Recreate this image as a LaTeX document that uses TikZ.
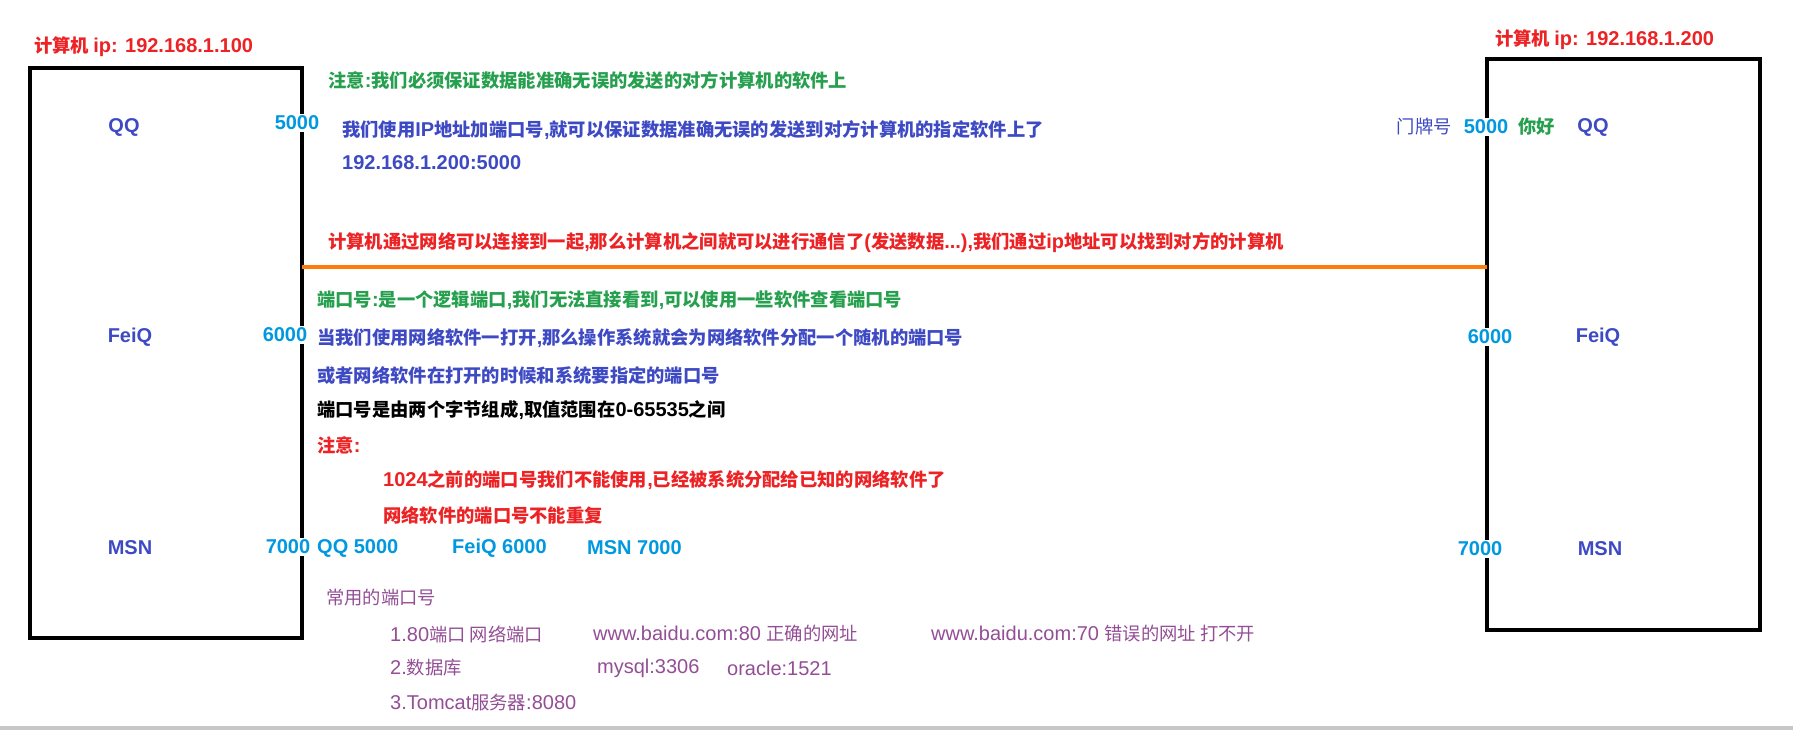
\documentclass[tikz,border=0pt]{standalone}
\usepackage{fontspec}
\setmainfont{Liberation Sans}
\newfontfamily\latfam{Liberation Sans}
\newfontfamily\cjkfam{Noto Sans CJK SC}[Scale=0.915]
\XeTeXinterchartokenstate=1
\newcount\cjkc
\cjkc="4E00
\loop \XeTeXcharclass\cjkc=10 \ifnum\cjkc<"9FFF \advance\cjkc by 1 \repeat
\XeTeXinterchartoks 0 10 = {\cjkfam}
\XeTeXinterchartoks 4095 10 = {\cjkfam}
\XeTeXinterchartoks 10 0 = {\latfam}
\XeTeXinterchartoks 4095 0 = {\latfam}
\definecolor{cred}{RGB}{236,34,36}
\definecolor{cgreen}{RGB}{38,160,78}
\definecolor{cblue}{RGB}{62,74,196}
\definecolor{cport}{RGB}{0,152,222}
\definecolor{corange}{RGB}{255,124,10}
\definecolor{cpurple}{RGB}{148,78,150}
\tikzset{
  txt/.style={anchor=west,inner sep=0pt,font=\fontsize{20}{24}\selectfont\bfseries},
  ptxt/.style={anchor=west,inner sep=0pt,text=cpurple,font=\fontsize{20}{24}\selectfont},
  app/.style={inner sep=0pt,text=cblue,font=\fontsize{20}{24}\selectfont\bfseries},
  port/.style={fill=white,inner sep=1.5pt,text=cport,font=\fontsize{20}{24}\selectfont\bfseries},
  pc/.style={draw=black,line width=4pt,inner sep=0pt,outer sep=0pt},
}
\begin{document}
\begin{tikzpicture}[x=1pt,y=-1pt]
\useasboundingbox[fill=white] (0,0) rectangle (1793,730);
\fill[black!22] (0,726) rectangle (1793,730);
% computers
\node[pc,minimum width=272pt,minimum height=570pt] (pc1) at (166,353) {};
\node[pc,minimum width=273pt,minimum height=571pt] (pc2) at (1623.5,344.5) {};
\node[txt,text=cred] (ip1) at (34,47) {计算机 ip: 192.168.1.100};
\node[txt,text=cred] (ip2) at (1495,40) {计算机 ip: 192.168.1.200};
% left apps
\node[app] (qq1) at (124,127) {QQ};
\node[app] (feiq1) at (130,337) {FeiQ};
\node[app] (msn1) at (130,548) {MSN};
\node[port] (p1a) at (297,123) {5000};
\node[port] (p1b) at (285,335) {6000};
\node[port] (p1c) at (288,547) {7000};
% right apps
\node[app] (qq2) at (1593,127) {QQ};
\node[app] (feiq2) at (1598,337) {FeiQ};
\node[app] (msn2) at (1600,549) {MSN};
\node[port] (p2a) at (1486,127) {5000};
\node[port] (p2b) at (1490,337) {6000};
\node[port] (p2c) at (1480,549) {7000};
\node[anchor=east,inner sep=0pt,text=cblue,font=\fontsize{20}{24}\selectfont] (door) at (1452,127) {门牌号};
\node[txt,text=cgreen] (hello) at (1518,127) {你好};
% texts
\node[txt,text=cgreen] (n1) at (328,80) {注意:我们必须保证数据能准确无误的发送的对方计算机的软件上};
\node[txt,text=cblue] (n2) at (342,130) {我们使用IP地址加端口号,就可以保证数据准确无误的发送到对方计算机的指定软件上了};
\node[txt,text=cblue] (n3) at (342,163) {192.168.1.200:5000};
\node[txt,text=cred] (n4) at (328,243) {计算机通过网络可以连接到一起,那么计算机之间就可以进行通信了(发送数据...),我们通过ip地址可以找到对方的计算机};
\coordinate (lineL) at (0,267);
\draw[corange,line width=3.5pt] (pc1.east |- lineL) -- (pc2.west |- lineL);
\node[txt,text=cgreen] (n5) at (317,300) {端口号:是一个逻辑端口,我们无法直接看到,可以使用一些软件查看端口号};
\node[txt,text=cblue] (n6) at (317,338) {当我们使用网络软件一打开,那么操作系统就会为网络软件分配一个随机的端口号};
\node[txt,text=cblue] (n7) at (317,376) {或者网络软件在打开的时候和系统要指定的端口号};
\node[txt,text=black] (n8) at (317,410) {端口号是由两个字节组成,取值范围在0-65535之间};
\node[txt,text=cred] (n9) at (317,445) {注意:};
\node[txt,text=cred] (n10) at (383,480) {1024之前的端口号我们不能使用,已经被系统分配给已知的网络软件了};
\node[txt,text=cred] (n11) at (383,515) {网络软件的端口号不能重复};
\node[txt,text=cport] (m1) at (317,548) {QQ 5000};
\node[txt,text=cport] (m2) at (452,548) {FeiQ 6000};
\node[txt,text=cport] (m3) at (587,548) {MSN 7000};
% common ports
\node[ptxt] (c0) at (326,598) {常用的端口号};
\node[ptxt] (c1) at (390,634) {1.80端口 网络端口};
\node[ptxt] (c2) at (593,634) {www.baidu.com:80 正确的网址};
\node[ptxt] (c3) at (931,634) {www.baidu.com:70 错误的网址 打不开};
\node[ptxt] (c4) at (390,668) {2.数据库};
\node[ptxt] (c5) at (597,668) {mysql:3306};
\node[ptxt] (c6) at (727,668) {oracle:1521};
\node[ptxt] (c7) at (390,703) {3.Tomcat服务器:8080};
\end{tikzpicture}
\end{document}
